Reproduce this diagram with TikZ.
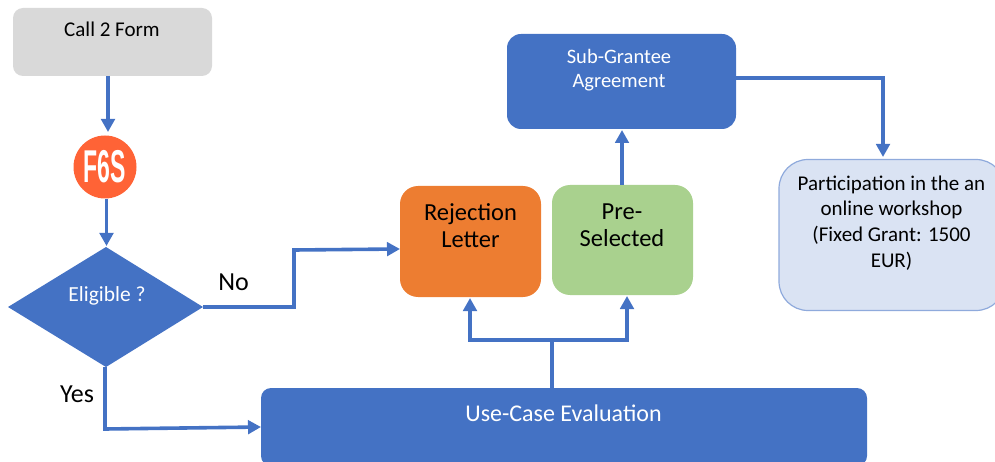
\documentclass[tikz,border=0pt]{standalone}
\usepackage{fontspec}
\setmainfont{Carlito}
\newfontfamily\logofont{Liberation Sans}
\usetikzlibrary{shapes.geometric,arrows.meta,calc}
\definecolor{fblue}{HTML}{4472C4}
\definecolor{fgrey}{HTML}{D9D9D9}
\definecolor{forange}{HTML}{ED7D31}
\definecolor{fgreen}{HTML}{A9D18E}
\definecolor{flight}{HTML}{DAE3F3}
\definecolor{fedge}{HTML}{8FAADC}
\definecolor{flogo}{HTML}{FF6336}
\tikzset{
  x=1pt,y=-1pt,
  link/.style={draw=fblue,line width=3.6pt,-{Triangle[length=13pt,width=13.5pt]}},
  plainlink/.style={draw=fblue,line width=3.6pt},
  label/.style={font=\fontsize{26}{30}\selectfont,text=black,inner sep=0pt}
}
\begin{document}
\begin{tikzpicture}
\useasboundingbox (0,0) rectangle (995,462);
\clip (0,0) rectangle (995,462);
\node[fill=fgrey,minimum width=199pt,minimum height=68pt,rounded corners=10pt] (call) at (112.5,42) {};
\node[font=\fontsize{21}{25}\selectfont] (calltext) at (112,29.5) {Call 2 Form};
\node[circle,fill=flogo,minimum size=63pt,inner sep=0pt] (logo) at (105,167) {};
\node[text=white,font=\logofont\bfseries\fontsize{46}{46}\selectfont,xscale=.5,inner sep=0pt] (logotext) at (105,167) {F6S};
\path[fill=fblue] (8,307) coordinate (dw) -- (106,247) coordinate (dn) -- (203,307) coordinate (de) -- (106,367) coordinate (ds) -- cycle;
\node[text=white,font=\fontsize{21.5}{25}\selectfont] (eligible) at (107,295.5) {Eligible ?};
\node[fill=forange,minimum width=141pt,minimum height=111pt,rounded corners=18pt] (rej) at (470.5,241.5) {};
\node[align=center,font=\fontsize{24.5}{27}\selectfont] (rejtext) at (470.5,226) {Rejection\\Letter};
\node[fill=fgreen,minimum width=141pt,minimum height=110pt,rounded corners=18pt] (pre) at (622.5,240) {};
\node[align=center,font=\fontsize{24.5}{27}\selectfont] (pretext) at (622,225) {Pre-\\Selected};
\node[fill=fblue,minimum width=229pt,minimum height=95pt,rounded corners=14pt] (sub) at (621.5,81.5) {};
\node[text=white,align=center,font=\fontsize{20.5}{24.5}\selectfont] (subtext) at (619,70) {Sub-Grantee\\Agreement};
\node[draw=fedge,line width=1.2pt,fill=flight,minimum width=226pt,minimum height=151pt,rounded corners=29pt] (part) at (892,235) {};
\node[align=center,font=\fontsize{21}{25.8}\selectfont] (parttext) at (891.5,223) {Participation in the an\\online workshop\\(Fixed Grant: 1500\\EUR)};
\node[fill=fblue,minimum width=606pt,minimum height=78pt,rounded corners=10pt] (eval) at (564,427) {};
\node[text=white,font=\fontsize{24}{28}\selectfont] (evaltext) at (563.5,413) {Use-Case Evaluation};
\node[label] (no) at (233.5,282) {No};
\node[label] (yes) at (77,394) {Yes};
\coordinate (c1) at (108,76);
\coordinate (c2) at (108,132);
\draw[link] (c1) -- (c2);
\coordinate (c3) at (106.5,199);
\coordinate (c4) at (106.5,246);
\draw[link] (c3) -- (c4);
\coordinate (n1) at (294,307);
\coordinate (n2) at (294,250);
\coordinate (n3) at (400,249);
\draw[link] (de) -- (n1) -- (n2) -- (n3);
\coordinate (y0) at (105,367);
\coordinate (y1) at (105,429);
\coordinate (y2) at (261,427);
\draw[link] (y0) -- (y1) -- (y2);
\coordinate (e0) at (552,388);
\coordinate (e1) at (552,340);
\coordinate (e2) at (470,340);
\coordinate (e3) at (627,340);
\coordinate (e4) at (470,298);
\coordinate (e5) at (627,296);
\draw[plainlink] (e0) -- (e1);
\draw[link] (e1) -- (e2) -- (e4);
\draw[link] (e1) -- (e3) -- (e5);
\coordinate (p0) at (622,185);
\coordinate (p1) at (622,130);
\draw[link] (p0) -- (p1);
\coordinate (s0) at (736,78);
\coordinate (s1) at (883,78);
\coordinate (s2) at (883,157);
\draw[link] (s0) -- (s1) -- (s2);
\end{tikzpicture}
\end{document}
